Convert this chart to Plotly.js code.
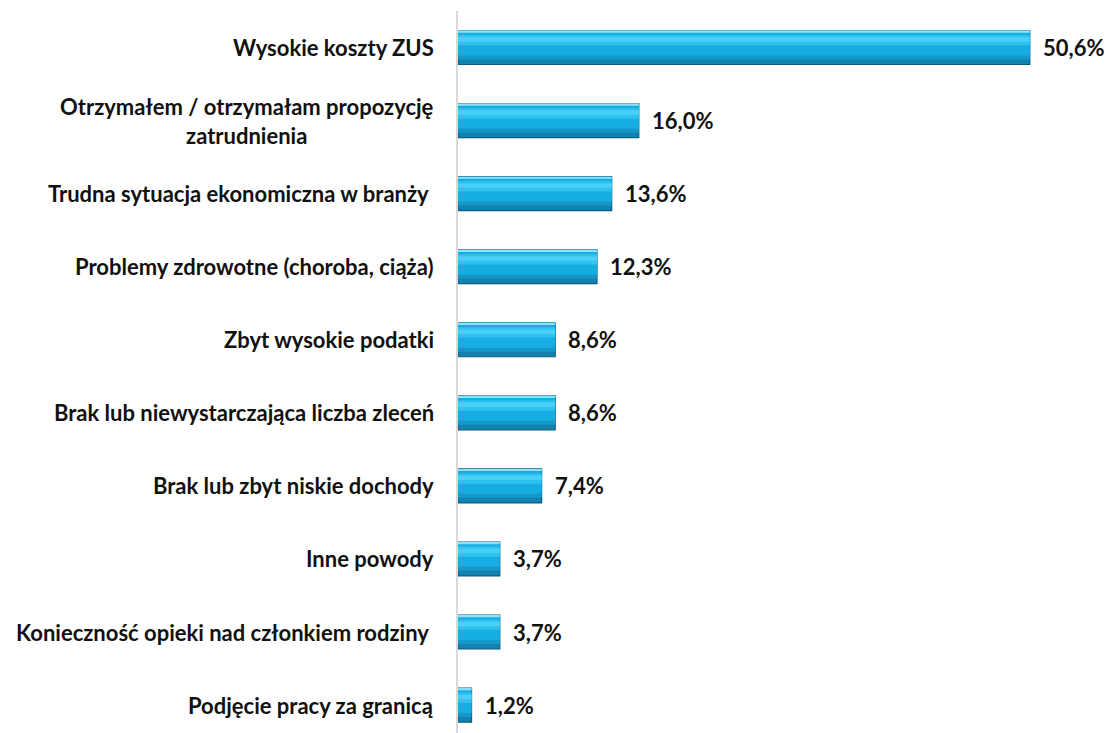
<!DOCTYPE html>
<html>
<head>
<meta charset="utf-8">
<script src="https://cdn.plot.ly/plotly-3.0.1.min.js"></script>
<style>html,body{margin:0;padding:0;background:#fff;}#chart{width:1107px;height:733px;}</style>
</head>
<body>
<div id="chart"></div>
<script>
const categories = [
  "Wysokie koszty ZUS",
  "Otrzymałem / otrzymałam propozycję<br>zatrudnienia",
  "Trudna sytuacja ekonomiczna w branży\u00a0",
  "Problemy zdrowotne (choroba, ciąża)",
  "Zbyt wysokie podatki",
  "Brak lub niewystarczająca liczba zleceń",
  "Brak lub zbyt niskie dochody",
  "Inne powody",
  "Konieczność opieki nad członkiem rodziny\u00a0",
  "Podjęcie pracy za granicą"
];
const values = [50.6, 16.0, 13.6, 12.3, 8.6, 8.6, 7.4, 3.7, 3.7, 1.2];
const valueLabels = ["50,6%", "16,0%", "13,6%", "12,3%", "8,6%", "8,6%", "7,4%", "3,7%", "3,7%", "1,2%"];

const FONT = "Lato, 'Open Sans', sans-serif";

function layer(width, offset, color, line) {
  return {
    type: 'bar', orientation: 'h',
    y: categories, x: values,
    width: width, offset: offset,
    marker: {color: color, line: line || {width: 0}},
    hoverinfo: 'skip', showlegend: false
  };
}

const traces = [
  layer(0.465, -0.2325, '#1283b0', {color: '#0c5d7e', width: 1.2}),
  layer(0.395, -0.2325, '#1597c8'),
  layer(0.34, -0.2325, '#16aee2'),
  layer(0.03, -0.2325, '#8fe2f7'),
  layer(0.14, -0.17, '#2ec2f0'),
  layer(0.06, -0.14, '#49d0f7')
];

const annotations = [];
categories.forEach((c, i) => {
  annotations.push({
    xref: 'paper', yref: 'y', x: 0, y: c,
    xanchor: 'right', yanchor: 'middle', xshift: -22,
    text: c, showarrow: false, align: 'center',
    font: {family: FONT, size: 22, weight: 700, color: '#111'}
  });
  annotations.push({
    xref: 'x', yref: 'y', x: values[i], y: c,
    xanchor: 'left', yanchor: 'middle', xshift: 11,
    text: valueLabels[i], showarrow: false,
    font: {family: FONT, size: 22, weight: 700, color: '#111'}
  });
});

const layout = {
  width: 1107, height: 733,
  margin: {l: 458, r: 0, t: 11, b: 0, pad: 0},
  paper_bgcolor: '#fff', plot_bgcolor: '#fff',
  barmode: 'overlay',
  font: {family: FONT, size: 22, color: '#111'},
  xaxis: {range: [0, 57.43], showgrid: false, zeroline: false, showline: false, showticklabels: false, ticks: ''},
  yaxis: {
    type: 'category', range: [9.382, -0.5],
    showgrid: false, zeroline: false, showticklabels: false, ticks: '',
    showline: true, linecolor: '#d9d9d9', linewidth: 2
  },
  annotations: annotations
};

Plotly.newPlot('chart', traces, layout, {displayModeBar: false, staticPlot: true});
</script>
</body>
</html>
